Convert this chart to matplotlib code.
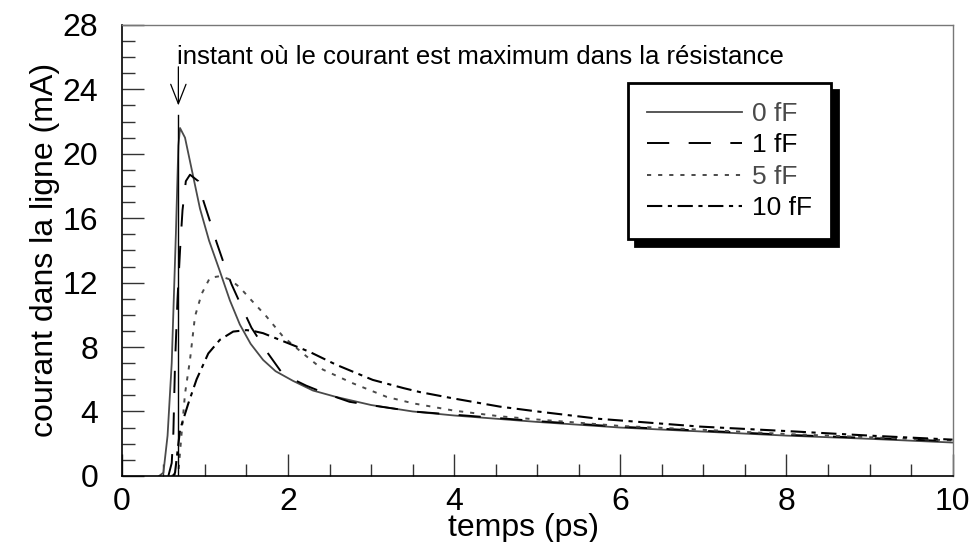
import matplotlib
matplotlib.use("Agg")
from matplotlib import pyplot as plt
from matplotlib.ticker import MultipleLocator

plt.rcParams['font.family'] = ['Liberation Sans', 'DejaVu Sans']
plt.rcParams['lines.scale_dashes'] = False

# courbes (temps en ps, courant en mA)
t_0 = [0.45, 0.5, 0.55, 0.6, 0.65, 0.68, 0.7, 0.76, 0.85, 0.94, 1.05, 1.18,
       1.3, 1.42, 1.55, 1.7, 1.85, 2.06, 2.3, 2.58, 3.0, 3.5, 4.0, 5.0, 6.0,
       7.0, 8.0, 9.0, 10.0]
i_0 = [0.0, 0.2, 2.5, 7.0, 15.0, 20.5, 21.6, 21.0, 18.8, 16.6, 14.6, 12.7,
       10.9, 9.4, 8.2, 7.2, 6.5, 5.9, 5.3, 4.9, 4.4, 4.0, 3.75, 3.35, 3.0,
       2.75, 2.5, 2.3, 2.07]

t_1 = [0.56, 0.6, 0.62, 0.64, 0.67, 0.7, 0.73, 0.77, 0.82, 0.92, 0.98, 1.08,
       1.14, 1.24, 1.32, 1.46, 1.56, 1.76, 1.94, 2.22, 2.46, 2.74, 2.98, 3.31,
       3.5, 4.0, 5.0, 6.0, 7.0, 8.0, 9.0, 10.0]
i_1 = [0.0, 0.8, 2.7, 7.0, 11.0, 14.0, 16.5, 18.3, 18.7, 18.3, 17.1, 15.5,
       14.5, 13.0, 11.9, 10.3, 9.2, 7.6, 6.3, 5.6, 5.1, 4.6, 4.4, 4.15,
       4.0, 3.8, 3.4, 3.05, 2.8, 2.55, 2.35, 2.15]

t_5 = [0.6, 0.68, 0.72, 0.76, 0.82, 0.88, 0.96, 1.06, 1.18, 1.3, 1.42, 1.56,
       1.74, 1.94, 2.18, 2.42, 2.78, 3.19, 3.51, 4.0, 4.55, 5.0, 6.0, 7.0,
       8.0, 9.0, 10.0]
i_5 = [0.0, 0.2, 2.7, 5.1, 7.2, 9.9, 11.3, 12.3, 12.4, 12.2, 11.7, 10.9,
       9.9, 8.65, 7.6, 6.6, 5.75, 4.9, 4.5, 4.05, 3.7, 3.5, 3.1, 2.86,
       2.6, 2.4, 2.2]

t_10 = [0.62, 0.64, 0.7, 0.8, 0.9, 1.04, 1.18, 1.34, 1.5, 1.58, 1.7, 2.02,
        2.26, 2.58, 3.02, 3.39, 3.59, 4.0, 4.55, 5.0, 5.75, 6.96, 8.12, 9.0,
        10.0]
i_10 = [0.0, 0.2, 2.86, 4.5, 6.0, 7.6, 8.45, 8.96, 9.05, 9.0, 8.86, 8.2,
        7.7, 6.9, 5.96, 5.45, 5.2, 4.8, 4.3, 4.0, 3.54, 3.06, 2.75, 2.5,
        2.25]

labels = ['0 fF', '1 fF', '5 fF', '10 fF']
t_peak = 0.68

fig = plt.figure(figsize=(9.75, 5.42), dpi=100)
ax = fig.add_axes([0.125, 0.122, 0.852, 0.832])

gray = '#4a4a4a'
ax.plot(t_0, i_0, color=gray, lw=1.3, label=labels[0])
ax.plot(t_1, i_1, color='black', lw=1.4, linestyle=(0, (16, 14)), label=labels[1])
ax.plot(t_5, i_5, color=gray, lw=1.4, linestyle=(0, (3, 5)), label=labels[2])
ax.plot(t_10, i_10, color='black', lw=1.5, linestyle=(0, (11, 4, 3, 4)), label=labels[3])

# instant du maximum
ax.plot([t_peak, t_peak], [0, 22.4], color='black', lw=1.0)
ax.annotate('', xy=(t_peak, 23.0), xytext=(t_peak, 25.4),
            arrowprops=dict(arrowstyle='->,head_length=1.4,head_width=0.55',
                            color='black', lw=0.9, shrinkA=0, shrinkB=0,
                            mutation_scale=10))
ax.text(t_peak - 0.02, 25.6, 'instant où le courant est maximum dans la résistance',
        fontsize=18.5, ha='left', va='baseline')

ax.set_xlim(0, 10)
ax.set_ylim(0, 28)
ax.xaxis.set_major_locator(MultipleLocator(2))
ax.xaxis.set_minor_locator(MultipleLocator(0.5))
ax.yaxis.set_major_locator(MultipleLocator(4))
ax.yaxis.set_minor_locator(MultipleLocator(1))
ax.tick_params(which='both', direction='in', top=False, right=False,
               colors='#333333', labelcolor='black', labelsize=23)
ax.tick_params(which='major', length=16, width=1.0)
ax.tick_params(which='minor', length=9, width=1.0)
ax.tick_params(axis='y', pad=17)
ax.tick_params(axis='x', pad=8)

for side in ['left', 'bottom']:
    ax.spines[side].set_color('black')
    ax.spines[side].set_linewidth(1.2)
for side in ['top', 'right']:
    ax.spines[side].set_color('#777777')
    ax.spines[side].set_linewidth(1.0)

ax.set_xlabel('temps (ps)', fontsize=23, labelpad=-3)
ax.xaxis.label.set_x(0.483)
ax.set_ylabel('courant dans la ligne (mA)', fontsize=23, labelpad=2)

leg = ax.legend(loc='upper left', bbox_to_anchor=(0.609, 0.871), fontsize=19,
                frameon=True, fancybox=False, handlelength=3.6,
                handletextpad=0.4, borderpad=0.72, labelspacing=0.28,
                borderaxespad=0.0,
                shadow={'color': 'black', 'alpha': 1.0, 'ox': 5, 'oy': -5})
leg.get_frame().set_edgecolor('black')
leg.get_frame().set_linewidth(2.0)
for txt, c in zip(leg.get_texts(), [gray, 'black', gray, 'black']):
    txt.set_color(c)

fig.savefig('out.png', dpi=100)
